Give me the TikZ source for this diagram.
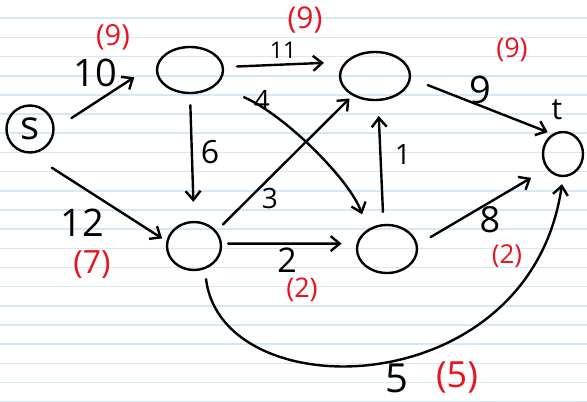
\documentclass[tikz,border=0pt]{standalone}
\usepackage{fontspec}
\setmainfont{Open Sans}
\usetikzlibrary{arrows.meta,shapes.geometric}

\definecolor{penred}{HTML}{E8141E}
\definecolor{ruleblue}{HTML}{D5E8F6}

\tikzset{
  vertex/.style={shape=ellipse,draw=black,line width=2.4pt,inner sep=0pt},
  flowedge/.style={line width=2.4pt,line cap=round,-{Straight Barb[length=9pt,width=15pt]}},
  cpty/.style={font=\fontsize{#1}{#1}\selectfont},
  cpty/.default=34,
  fval/.style={text=penred,font=\fontsize{#1}{#1}\selectfont},
  fval/.default=28,
  ruling/.style={draw=ruleblue,line width=1.6pt}
}

\begin{document}
\begin{tikzpicture}[x=1pt,y=-1pt]
% lined paper
\useasboundingbox[fill=white] (0,0) rectangle (587,402);
\foreach \k in {1,...,21}
  \draw[ruling] (0,{19.17*\k-0.9}) -- (587,{19.17*\k-0.9});

% vertices
\node[vertex,minimum size=47pt,font=\fontsize{40}{40}\selectfont] (s) at (30,129) {s};
\node[vertex,minimum width=66pt,minimum height=46pt] (A) at (190,70) {};
\node[vertex,minimum width=70pt,minimum height=48pt] (B) at (375,76) {};
\node[vertex,minimum width=54pt,minimum height=48pt] (C) at (194,246) {};
\node[vertex,minimum width=60pt,minimum height=48pt] (D) at (387,249) {};
\node[vertex,minimum width=40pt,minimum height=44pt] (t) at (563,154) {};
\node[cpty=30] (tl) at (557,110) {t};

% edges
\path[flowedge] (s.0) edge[shorten <=20pt,shorten >=28pt] (A.166);
\path[flowedge] (s.south) edge[shorten <=26pt,shorten >=5pt] (C.170);
\path[flowedge] (A.5) edge[shorten <=13pt,shorten >=21pt] (B.155);
\path[flowedge] (A.south) edge[shorten <=11pt,shorten >=19pt] (C.north);
\path[flowedge] (C.34) edge[shorten <=9pt,shorten >=4pt] (B.221);
\path[flowedge] (C.5) edge[shorten <=6pt,shorten >=15pt] (D.170);
\path[flowedge] (D.98) edge[shorten <=12pt,shorten >=15pt] (B.-83);
\path[flowedge] (B.-4) edge[shorten <=18pt,shorten >=5pt] (t.118);
\path[flowedge] (D.8) edge[shorten <=15pt,shorten >=18pt] (t.222);
\draw[flowedge,shorten <=30pt,shorten >=16pt] (A.-30) .. controls (285,115) and (350,180) .. (D.135);
\draw[flowedge,shorten <=10pt,shorten >=7pt] (C.-65) .. controls (222,410) and (530,405) .. (t.south);

% capacities
\node[cpty=38] (c10) at (95,73) {10};
\node[cpty=23] (c11) at (283,50) {11};
\node[cpty=32] (c6) at (210,152) {6};
\node[cpty=28] (c4) at (262,100) {4};
\node[cpty=28] (c3) at (270,198) {3};
\node[cpty=28] (c1) at (403,155) {1};
\node[cpty=38] (c9) at (480,90) {9};
\node[cpty=38] (c12) at (82,223) {12};
\node[cpty=34] (c2) at (287,260) {2};
\node[cpty=36] (c8) at (490,220) {8};
\node[cpty=40] (c5) at (397,378) {5};

% flows
\node[fval=29] (f9a) at (113,37) {(9)};
\node[fval=30] (f9b) at (305,20) {(9)};
\node[fval=27] (f9c) at (512,50) {(9)};
\node[fval=32] (f7) at (92,265) {(7)};
\node[fval=27] (f2a) at (302,290) {(2)};
\node[fval=26] (f2b) at (507,256) {(2)};
\node[fval=36] (f5) at (457,377) {(5)};
\end{tikzpicture}
\end{document}
